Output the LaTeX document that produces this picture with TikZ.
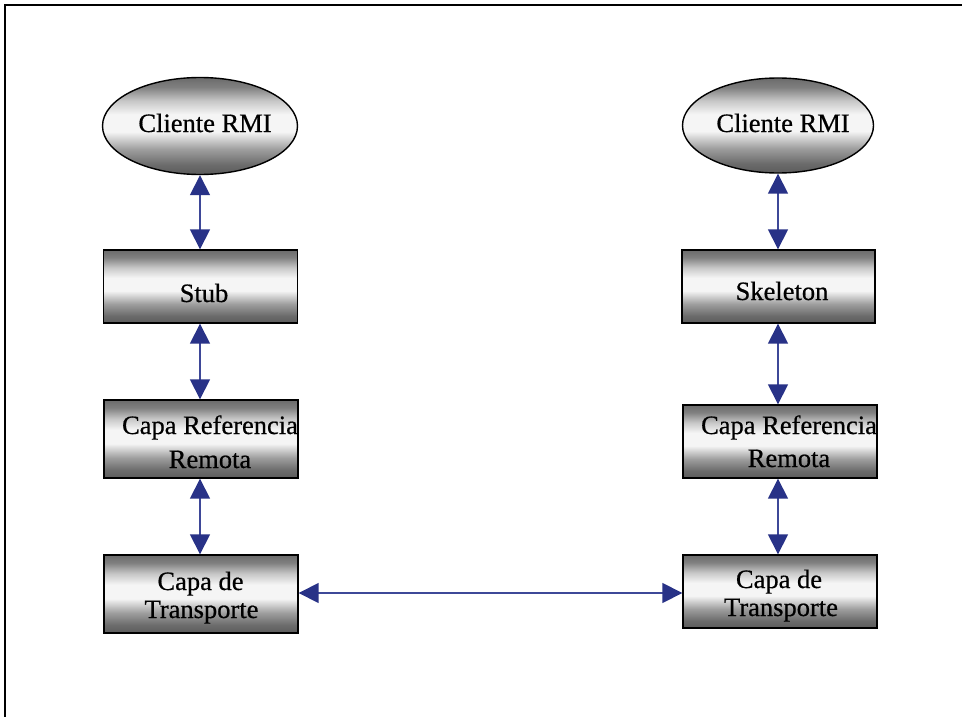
\documentclass[tikz,border=0pt]{standalone}
\usepackage{fontspec}
\setmainfont{Liberation Serif}
\newfontfamily\capfont{Liberation Serif}[FakeBold=0.6]
\usetikzlibrary{arrows.meta,shapes.geometric}

% grey metallic fill: dark at top and bottom, bright band above the middle
\definecolor{fadeA}{gray}{0.36}
\definecolor{fadeB}{gray}{0.42}
\definecolor{fadeC}{gray}{0.62}
\definecolor{fadeD}{gray}{0.96}
\definecolor{fadeE}{gray}{0.78}
\definecolor{fadeF}{gray}{0.50}
\definecolor{fadeG}{gray}{0.42}
\pgfdeclareverticalshading{metalfade}{100bp}{%
  color(0bp)=(fadeA); color(25bp)=(fadeA); color(30bp)=(fadeB);
  color(38bp)=(fadeC); color(47bp)=(fadeD); color(56bp)=(fadeD);
  color(63bp)=(fadeE); color(70bp)=(fadeF); color(75bp)=(fadeG);
  color(100bp)=(fadeG)}

\definecolor{linkshaft}{RGB}{62,72,152}
\definecolor{linktip}{RGB}{40,50,135}

\tikzset{
  layerbox/.style={draw=black, line width=1.4pt, shading=metalfade,
    minimum width=194pt, minimum height=73pt, inner sep=0pt},
  clientoval/.style={ellipse, draw=black, line width=1.4pt, shading=metalfade,
    minimum width=195pt, minimum height=97pt, inner sep=0pt},
  caption/.style={anchor=base, inner sep=0pt,
    font=\capfont\fontsize{26.5}{30}\selectfont},
  link/.style={draw=linkshaft, line width=1.6pt,
    {Triangle[length=20pt,width=20pt,color=linktip]}-{Triangle[length=20pt,width=20pt,color=linktip]}},
}

\begin{document}
\begin{tikzpicture}[x=1pt,y=-1pt]
\useasboundingbox (0,0) rectangle (962,717);
\fill[white] (0,0) rectangle (962,717);

% page frame (top and left edges)
\draw[line width=2pt] (962,5) -- (5,5) -- (5,717);

% client side
\node[clientoval] (cliL) at (200,126) {};
\node[layerbox] (stub) at (200.5,286.5) {};
\node[layerbox, minimum height=78pt] (refL) at (201,439) {};
\node[layerbox, minimum height=78pt] (trL) at (201,594) {};

% server side
\node[clientoval, minimum width=191pt, minimum height=95pt] (cliR) at (778,125.5) {};
\node[layerbox, minimum width=193pt] (skel) at (778.5,286.5) {};
\node[layerbox] (refR) at (780,441.5) {};
\node[layerbox] (trR) at (780,591.5) {};

% labels
\node[caption] (tCliL) at (205,132) {Cliente RMI};
\node[caption] (tStub) at (204,302) {Stub};
\node[caption] (tRefL1) at (210,434) {Capa Referencia};
\node[caption] (tRefL2) at (210,468) {Remota};
\node[caption] (tTrL1) at (200.5,590) {Capa de};
\node[caption] (tTrL2) at (201.5,618) {Transporte};

\node[caption] (tCliR) at (783,132) {Cliente RMI};
\node[caption] (tSkel) at (782,300) {Skeleton};
\node[caption] (tRefR1) at (789,434) {Capa Referencia};
\node[caption] (tRefR2) at (789,467) {Remota};
\node[caption] (tTrR1) at (779,588) {Capa de};
\node[caption] (tTrR2) at (781,616) {Transporte};

% vertical links between layers
\draw[link] (cliL.south) -- (cliL.south |- stub.north);
\draw[link] (cliL.south |- stub.south) -- (cliL.south |- refL.north);
\draw[link] (cliL.south |- refL.south) -- (cliL.south |- trL.north);

\draw[link] (cliR.south) -- (cliR.south |- skel.north);
\draw[link] (cliR.south |- skel.south) -- (cliR.south |- refR.north);
\draw[link] (cliR.south |- refR.south) -- (cliR.south |- trR.north);

% transport link
\draw[link] (trL.east |- 0,593) -- (trR.west |- 0,593);
\end{tikzpicture}
\end{document}
